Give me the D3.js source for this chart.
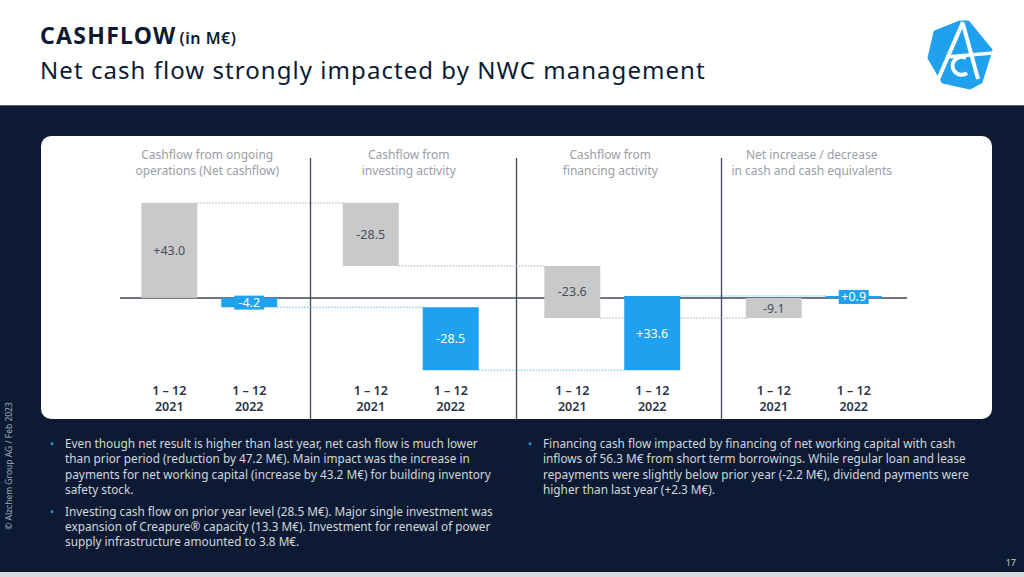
<!DOCTYPE html>
<html><head><meta charset="utf-8">
<script src="https://cdn.jsdelivr.net/npm/d3@7"></script>
<style>
html,body{margin:0;padding:0;background:#fff;}
svg{display:block;font-family:"Noto Sans","Open Sans",sans-serif;}
</style></head>
<body>
<svg id="chart" width="1024" height="577"></svg>
<script>
// ---- data ----
const groups = ["ops", "inv", "fin", "net"];
const groupTitles = [
  ["Cashflow from ongoing", "operations (Net cashflow)"],
  ["Cashflow from", "investing activity"],
  ["Cashflow from", "financing activity"],
  ["Net increase / decrease", "in cash and cash equivalents"]
];
const years = ["2021", "2022"];
const periodLabel = "1 – 12";
const values2021 = [43.0, -28.5, -23.6, -9.1];
const values2022 = [-4.2, -28.5, 33.6, 0.9];
const totalGroup = "net";

const title = "CASHFLOW";
const titleUnit = "(in M€)";
const subtitle = "Net cash flow strongly impacted by NWC management";
const bulletsLeft = [
  ["Even though net result is higher than last year, net cash flow is much lower",
   "than prior period (reduction by 47.2 M€). Main impact was the increase in",
   "payments for net working capital (increase by 43.2 M€) for building inventory",
   "safety stock."],
  ["Investing cash flow on prior year level (28.5 M€). Major single investment was",
   "expansion of Creapure® capacity (13.3 M€). Investment for renewal of power",
   "supply infrastructure amounted to 3.8 M€."]
];
const bulletsRight = [
  ["Financing cash flow impacted by financing of net working capital with cash",
   "inflows of 56.3 M€ from short term borrowings. While regular loan and lease",
   "repayments were slightly below prior year (-2.2 M€), dividend payments were",
   "higher than last year (+2.3 M€)."]
];
const footnote = "© Alzchem Group AG / Feb 2023";
const pageNo = "17";

// ---- style ----
const NAVY = "#0c1b33", GREY = "#c8c9cb", BLUE = "#1fa1ef";

const svg = d3.select("#chart");

// header
svg.append("rect").attr("x",0).attr("y",0).attr("width",1024).attr("height",105).attr("fill","#fff");
const t = svg.append("text").attr("x",40).attr("y",44).attr("fill",NAVY);
t.append("tspan").attr("font-size",23).attr("font-weight",700).attr("letter-spacing",1.3).text(title);
t.append("tspan").attr("font-size",16).attr("font-weight",600).attr("dx",3).attr("letter-spacing",0.5).text(titleUnit);
svg.append("text").attr("x",40).attr("y",79).attr("fill",NAVY).attr("font-size",24)
  .attr("letter-spacing",1.05).text(subtitle);

// logo
const logo = svg.append("g");
logo.append("path").attr("d","M935,32 L960,22 L968,22 L991,50 L981,82 L970,88 L943,82 L929,58 Z")
  .attr("fill",BLUE).attr("stroke",BLUE).attr("stroke-width",3).attr("stroke-linejoin","round");
logo.append("path").attr("d","M937,82 L963,22").attr("stroke","#fff").attr("stroke-width",4).attr("fill","none");
logo.append("path").attr("d","M963,24 L978,79").attr("stroke","#fff").attr("stroke-width",4).attr("fill","none");
logo.append("path").attr("d","M946,57 L993,53").attr("stroke","#fff").attr("stroke-width",3.5).attr("fill","none");
logo.append("path").attr("d","M966,58 A9,9 0 1 0 967,73").attr("stroke","#fff").attr("stroke-width",4).attr("fill","none");

// dark band
svg.append("rect").attr("x",0).attr("y",105).attr("width",1024).attr("height",467).attr("fill",NAVY);
svg.append("line").attr("x1",0).attr("x2",1024).attr("y1",105.5).attr("y2",105.5).attr("stroke","#59667a").attr("stroke-width",1);
svg.append("rect").attr("x",0).attr("y",572).attr("width",1024).attr("height",5).attr("fill","#d9dbde");

// card
svg.append("rect").attr("x",41).attr("y",136).attr("width",951).attr("height",283).attr("rx",10).attr("fill","#fff");

// scales
const x0 = d3.scaleBand().domain(groups).range([108.5, 914.5]).padding(0);
const x1 = d3.scaleBand().domain(years).range([0, x0.bandwidth()]).paddingInner(0.3).paddingOuter(0.41);
const y = d3.scaleLinear().domain([-36, 60]).range([377.5, 165.4]);

// waterfall computation
function waterfall(vals, year) {
  let cum = 0;
  return groups.map((g, i) => {
    const v = vals[i];
    let start, end;
    if (g === totalGroup) { start = 0; end = v; }
    else { start = cum; end = cum + v; cum = end; }
    return {group: g, year, value: v, start, end};
  });
}
const series = [waterfall(values2021, "2021"), waterfall(values2022, "2022")];

// separators
const sepOffset = {inv: 0, fin: 4.5, net: 8};
groups.slice(1).forEach(g => {
  const sx = Math.round(x0(g) + sepOffset[g]) + 0.5;
  svg.append("line").attr("x1",sx).attr("x2",sx).attr("y1",158).attr("y2",419)
    .attr("stroke","#3f4856").attr("stroke-width",1.3);
});

// group titles
groups.forEach((g, i) => {
  const cx = x0(g) + x0.bandwidth()/2 - 2;
  const tx = svg.append("text").attr("text-anchor","middle").attr("fill","#9a9ea5").attr("font-size",12);
  groupTitles[i].forEach((line, k) => tx.append("tspan").attr("x", cx).attr("y", 159 + k*15.5).text(line));
});

// zero line
svg.append("line").attr("x1",120).attr("x2",907).attr("y1",y(0)).attr("y2",y(0))
  .attr("stroke","#3f4856").attr("stroke-width",1.5);

// connectors (dotted)
series.forEach(s => {
  const col = s[0].year === "2021" ? "#a9abae" : "#5ab8f2";
  for (let i = 0; i < s.length - 1; i++) {
    const a = s[i], b = s[i+1];
    const lvl = a.end;
    const xa = x0(a.group) + x1(a.year) + x1.bandwidth();
    const xb = x0(b.group) + x1(b.year);
    svg.append("line").attr("x1",xa).attr("x2",xb).attr("y1",y(lvl)).attr("y2",y(lvl))
      .attr("stroke",col).attr("stroke-width",1).attr("stroke-dasharray","1.5,1.5");
  }
});

// bars
const fmt = v => (v > 0 ? "+" : "-") + d3.format(".1f")(Math.abs(v));
series.forEach(s => {
  s.forEach(d => {
    const col = d.year === "2021" ? GREY : BLUE;
    const bx = x0(d.group) + x1(d.year);
    const top = y(Math.max(d.start, d.end)), bot = y(Math.min(d.start, d.end));
    svg.append("rect").attr("x",bx).attr("y",top).attr("width",x1.bandwidth()).attr("height",Math.max(1.5, bot-top)).attr("fill",col);
    const cx = bx + x1.bandwidth()/2, cy = (top + bot)/2;
    const txtCol = d.year === "2021" ? "#4a4f57" : "#fff";
    if (bot - top < 14) {
      const label = fmt(d.value);
      const w = label.length * 7 + 2;
      svg.append("rect").attr("x",cx - w/2).attr("y",cy - 7).attr("width",w).attr("height",14).attr("fill",col);
    }
    svg.append("text").attr("x",cx).attr("y",cy).attr("dy","0.36em").attr("text-anchor","middle")
      .attr("font-size",12.5).attr("fill",txtCol).text(fmt(d.value));
  });
});

// category axis labels
groups.forEach(g => years.forEach(yr => {
  const cx = x0(g) + x1(yr) + x1.bandwidth()/2;
  const lt = svg.append("text").attr("text-anchor","middle").attr("fill","#2b3344").attr("font-size",12.5).attr("font-weight",600);
  lt.append("tspan").attr("x",cx).attr("y",395).text(periodLabel);
  lt.append("tspan").attr("x",cx).attr("y",410.5).text(yr);
}));

// bullets
function bulletBlock(list, bx, tx, y0) {
  let yy = y0;
  list.forEach(lines => {
    svg.append("text").attr("x",bx).attr("y",yy).attr("fill",BLUE).attr("font-size",11).text("•");
    lines.forEach(l => {
      svg.append("text").attr("x",tx).attr("y",yy).attr("fill","#d3d7de").attr("font-size",11.8).text(l);
      yy += 15.4;
    });
    yy += 6;
  });
}
bulletBlock(bulletsLeft, 50, 65, 448);
bulletBlock(bulletsRight, 528, 543, 448);

// footnote
svg.append("text").attr("transform","translate(12,466) rotate(-90)").attr("text-anchor","middle")
  .attr("fill","#a2abb8").attr("font-size",8.5).text(footnote);
svg.append("text").attr("x",1016).attr("y",566).attr("text-anchor","end").attr("fill","#c3c9d2").attr("font-size",9).text(pageNo);
</script>
</body></html>
